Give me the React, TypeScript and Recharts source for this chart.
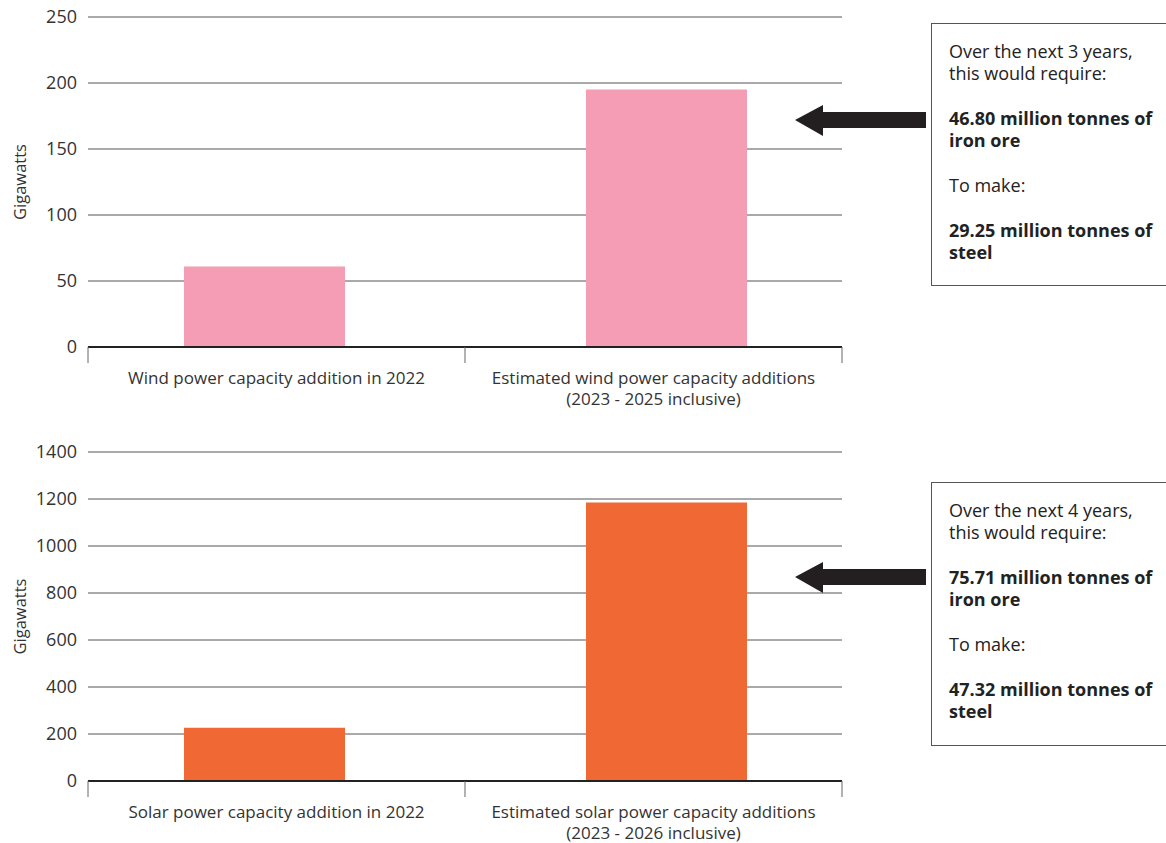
import React from "react";
import { BarChart, Bar, XAxis, YAxis, CartesianGrid } from "recharts";

const windCategories = [
  "Wind power capacity addition in 2022",
  "Estimated wind power capacity additions\n(2023 - 2025 inclusive)",
];
const windValues = [61, 195];
const windTicks = [0, 50, 100, 150, 200, 250];

const solarCategories = [
  "Solar power capacity addition in 2022",
  "Estimated solar power capacity additions\n(2023 - 2026 inclusive)",
];
const solarValues = [227, 1185];
const solarTicks = [0, 200, 400, 600, 800, 1000, 1200, 1400];

const windNote = [
  ["Over the next 3 years,", "this would require:"],
  ["46.80 million tonnes of", "iron ore"],
  ["To make:"],
  ["29.25 million tonnes of", "steel"],
];
const solarNote = [
  ["Over the next 4 years,", "this would require:"],
  ["75.71 million tonnes of", "iron ore"],
  ["To make:"],
  ["47.32 million tonnes of", "steel"],
];

const FONT = "'Open Sans', sans-serif";
const CHART_W = 860;
const MARGIN_L = 28;
const MARGIN_R = 18;
const Y_W = 60;
const BAND = (CHART_W - MARGIN_L - MARGIN_R - Y_W) / 2;

function CategoryTick(props: any) {
  const { x, y, payload, index, count } = props;
  const lines = String(payload.value).split("\n");
  return (
    <g>
      <line x1={x - BAND / 2} x2={x - BAND / 2} y1={y} y2={y + 16} stroke="#666" strokeWidth={1} />
      {index === count - 1 && (
        <line x1={x + BAND / 2} x2={x + BAND / 2} y1={y} y2={y + 16} stroke="#666" strokeWidth={1} />
      )}
      {lines.map((l, i) => (
        <text
          key={i}
          x={x}
          y={y + 30 + i * 21}
          textAnchor="middle"
          dominantBaseline="central"
          fontSize={17}
          fill="#333"
        >
          {l}
        </text>
      ))}
    </g>
  );
}

interface PanelProps {
  categories: string[];
  values: number[];
  ticks: number[];
  color: string;
  height: number;
  bottom: number;
  axisH: number;
}

function Panel({ categories, values, ticks, color, height, bottom, axisH }: PanelProps) {
  const data = categories.map((name, i) => ({ name, value: values[i] }));
  return (
    <BarChart
      width={CHART_W}
      height={height}
      data={data}
      margin={{ top: 17, right: MARGIN_R, left: MARGIN_L, bottom }}
    >
      <CartesianGrid vertical={false} stroke="#555" strokeWidth={1} />
      <XAxis
        dataKey="name"
        height={axisH}
        interval={0}
        tickSize={0}
        tickMargin={0}
        axisLine={{ stroke: "#222", strokeWidth: 2 }}
        tickLine={false}
        tick={<CategoryTick count={categories.length} />}
      />
      <XAxis xAxisId="bars" dataKey="name" hide padding={{ left: -25, right: -25 }} />
      <YAxis
        domain={[ticks[0], ticks[ticks.length - 1]]}
        ticks={ticks}
        width={Y_W}
        axisLine={false}
        tickLine={false}
        tickSize={0}
        tickMargin={11}
        tick={{ fontSize: 18, fill: "#333" }}
        label={{
          value: "Gigawatts",
          angle: -90,
          position: "insideLeft",
          offset: -8,
          fill: "#333",
          style: { textAnchor: "middle", fontSize: 16.5, fill: "#333" },
        }}
      />
      <Bar xAxisId="bars" dataKey="value" fill={color} barSize={161} isAnimationActive={false} />
    </BarChart>
  );
}

function Note({ top, height, paras }: { top: number; height: number; paras: string[][] }) {
  return (
    <div
      style={{
        position: "absolute",
        left: 931,
        top,
        width: 260,
        height,
        border: "1px solid #555",
        boxSizing: "border-box",
        padding: "16px 0 0 17px",
        fontSize: 18,
        lineHeight: "22px",
        color: "#222",
      }}
    >
      {paras.map((p, i) => (
        <div key={i} style={{ marginBottom: 23, fontWeight: i % 2 === 1 ? 700 : 400 }}>
          {p.map((l, j) => (
            <div key={j} style={{ whiteSpace: "nowrap" }}>{l}</div>
          ))}
        </div>
      ))}
    </div>
  );
}

function Arrow({ cy }: { cy: number }) {
  return (
    <svg style={{ position: "absolute", left: 790, top: cy - 20, overflow: "visible" }} width={140} height={40}>
      <polygon
        points={`5,20 33,5 33,12 136,12 136,28 33,28 33,36`}
        fill="#231f20"
      />
    </svg>
  );
}

export default function App() {
  return (
    <div
      style={{
        position: "absolute",
        left: 0,
        top: 0,
        width: 1166,
        height: 843,
        overflow: "hidden",
        background: "#fff",
        fontFamily: FONT,
      }}
    >
      <div style={{ position: "absolute", left: 0, top: 0 }}>
        <Panel
          categories={windCategories}
          values={windValues}
          ticks={windTicks}
          color="#F59DB4"
          height={420}
          bottom={13}
          axisH={60}
        />
      </div>
      <div style={{ position: "absolute", left: 0, top: 435 }}>
        <Panel
          categories={solarCategories}
          values={solarValues}
          ticks={solarTicks}
          color="#F06834"
          height={408}
          bottom={7}
          axisH={55}
        />
      </div>
      <Arrow cy={120} />
      <Arrow cy={577} />
      <Note top={23} height={263} paras={windNote} />
      <Note top={482} height={264} paras={solarNote} />
    </div>
  );
}
